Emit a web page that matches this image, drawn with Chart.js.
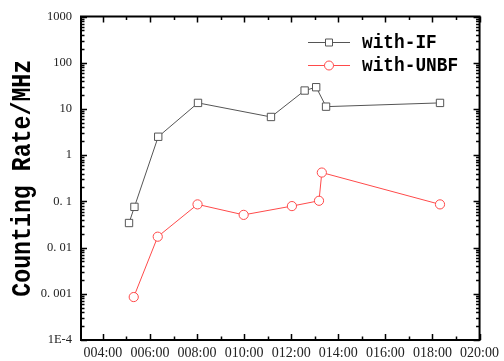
<!DOCTYPE html>
<html><head><meta charset="utf-8">
<script src="https://cdn.jsdelivr.net/npm/chart.js@4.4.1/dist/chart.umd.min.js"></script>
<style>html,body{margin:0;padding:0;background:#fff;}#wrap{width:504px;height:361px;}</style>
</head><body><div id="wrap"><canvas id="c" width="504" height="361"></canvas></div>
<script>
// hours of day
const ifTimes = [5.11, 5.34, 6.35, 8.04, 11.14, 12.57, 13.06, 13.48, 18.32];
const ifRates = [0.034, 0.076, 2.5, 13.5, 6.7, 25, 29.5, 11.2, 13.5];
const unbfTimes = [5.31, 6.33, 8.02, 9.98, 12.03, 13.18, 13.3, 18.32];
const unbfRates = [0.00085, 0.0172, 0.086, 0.051, 0.079, 0.103, 0.42, 0.086];
const xTickValues = [4, 6, 8, 10, 12, 14, 16, 18, 20];
const yTickValues = [1e-4, 1e-3, 1e-2, 1e-1, 1, 10, 100, 1000];
const yTickLabels = ['1E-4', '0. 001', '0. 01', '0. 1', '1', '10', '100', '1000'];
const seriesNames = ['with-IF', 'with-UNBF'];
const yTitle = 'Counting Rate/MHz';

const GRAY = '#555555', RED = '#ff4a4a';
const pts = (xs, ys) => xs.map((x, i) => ({x, y: ys[i]}));
const fmtX = v => '0' + String(v).padStart(2, '0') + ':00';

const frameTicks = {
  id: 'frameTicks',
  afterDraw(chart) {
    const {ctx, chartArea: a, scales: {x, y}} = chart;
    ctx.save();
    ctx.strokeStyle = '#000';
    ctx.lineWidth = 1.5;
    ctx.beginPath();
    for (let h = 4; h <= 20; h++) {
      const px = Math.round(x.getPixelForValue(h)) + 0.5;
      const L = h % 2 === 0 ? 6 : 3.5;
      ctx.moveTo(px, a.bottom); ctx.lineTo(px, a.bottom - L);
      ctx.moveTo(px, a.top); ctx.lineTo(px, a.top + L);
    }
    for (let e = -4; e <= 3; e++) {
      for (let m = 1; m <= 9; m++) {
        const v = m * Math.pow(10, e);
        if (v > 1000) break;
        const py = Math.round(y.getPixelForValue(v)) + 0.5;
        const L = m === 1 ? 6 : 3.5;
        ctx.moveTo(a.left, py); ctx.lineTo(a.left + L, py);
        ctx.moveTo(a.right, py); ctx.lineTo(a.right - L, py);
      }
    }
    ctx.stroke();
    ctx.lineWidth = 2;
    ctx.strokeRect(a.left, a.top, a.right - a.left, a.bottom - a.top);
    // y title
    ctx.save();
    ctx.translate(22, (a.top + a.bottom) / 2);
    ctx.rotate(-Math.PI / 2);
    ctx.scale(0.86, 1);
    ctx.font = 'bold 27px "Liberation Mono", monospace';
    ctx.fillStyle = '#000';
    ctx.textAlign = 'center';
    ctx.textBaseline = 'middle';
    ctx.fillText(yTitle, 0, 1);
    ctx.restore();
    // legend
    const rows = [{c: GRAY, s: 'rect', t: seriesNames[0], y: 42}, {c: RED, s: 'circle', t: seriesNames[1], y: 65}];
    rows.forEach(r => {
      ctx.strokeStyle = r.c; ctx.lineWidth = 1;
      ctx.beginPath(); ctx.moveTo(308, r.y + 0.5); ctx.lineTo(350, r.y + 0.5); ctx.stroke();
      ctx.fillStyle = '#fff';
      ctx.beginPath();
      if (r.s === 'rect') ctx.rect(325.5, r.y - 3, 7, 7); else ctx.arc(329, r.y + 0.5, 4.5, 0, Math.PI * 2);
      ctx.fill(); ctx.stroke();
      ctx.save();
      ctx.translate(362, r.y + 1);
      ctx.scale(0.89, 1);
      ctx.font = 'bold 20px "Liberation Mono", monospace';
      ctx.textBaseline = 'middle';
      ctx.fillStyle = '#000';
      ctx.fillText(r.t, 0, 0);
      ctx.restore();
    });
    ctx.restore();
  }
};

new Chart(document.getElementById('c'), {
  type: 'scatter',
  data: {
    datasets: [
      {label: seriesNames[0], data: pts(ifTimes, ifRates), showLine: true, borderColor: GRAY, backgroundColor: '#fff',
       borderWidth: 1, pointStyle: 'rect', pointRadius: 5.2, pointBorderWidth: 1, pointBorderColor: GRAY},
      {label: seriesNames[1], data: pts(unbfTimes, unbfRates), showLine: true, borderColor: RED, backgroundColor: '#fff',
       borderWidth: 1, pointStyle: 'circle', pointRadius: 4.6, pointBorderWidth: 1, pointBorderColor: RED}
    ]
  },
  options: {
    responsive: false, animation: false, devicePixelRatio: 1,
    layout: {padding: {top: 16, right: 22, left: 0, bottom: 0}},
    plugins: {legend: {display: false}, tooltip: {enabled: false}},
    scales: {
      x: {
        type: 'linear', min: 3.07, max: 20,
        grid: {display: false, drawTicks: false}, border: {display: false},
        afterBuildTicks: s => { s.ticks = xTickValues.map(v => ({value: v})); },
        afterFit: s => { s.height = 21; },
        ticks: {color: '#222', padding: 5, maxRotation: 0, autoSkip: false,
                font: {family: '"Liberation Serif", serif', size: 14}, callback: v => fmtX(v)}
      },
      y: {
        type: 'logarithmic', min: 1e-4, max: 1000,
        grid: {display: false, drawTicks: false}, border: {display: false},
        afterBuildTicks: s => { s.ticks = yTickValues.map(v => ({value: v})); },
        afterFit: s => { s.width = 81; },
        ticks: {color: '#222', padding: 9, autoSkip: false,
                font: {family: '"Liberation Serif", serif', size: 12.5},
                callback: (v) => { const i = yTickValues.findIndex(t => Math.abs(Math.log10(t) - Math.log10(v)) < 1e-6); return i >= 0 ? yTickLabels[i] : ''; }},
        title: {display: false}
      }
    }
  },
  plugins: [frameTicks]
});
</script></body></html>
